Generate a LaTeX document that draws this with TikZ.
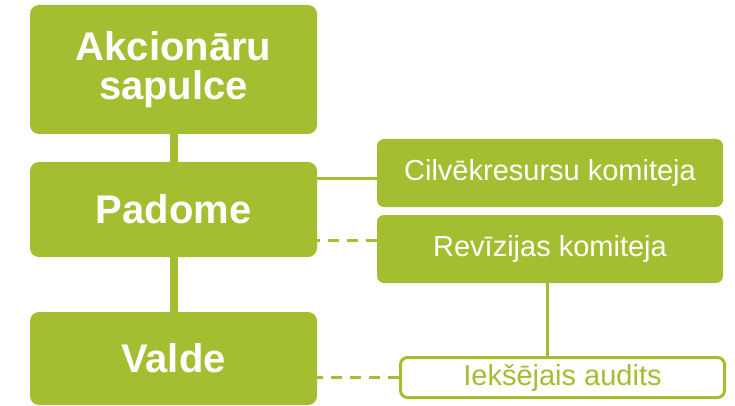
\documentclass[tikz,border=0pt]{standalone}
\usepackage{fontspec}
\setmainfont{Liberation Sans}
\definecolor{lime}{RGB}{164,190,50}
\begin{document}
\begin{tikzpicture}[x=1pt,y=-1pt,
  mainbox/.style={fill=lime,rounded corners=9pt,inner sep=0pt,minimum width=287pt,text=white,font=\fontsize{40}{39}\selectfont\bfseries,align=center},
  subbox/.style={fill=lime,rounded corners=7pt,inner sep=0pt,minimum width=346pt,minimum height=68pt,text=white,font=\fontsize{29}{30}\selectfont},
  outbox/.style={draw=lime,line width=3pt,fill=white,rounded corners=7pt,inner sep=0pt,minimum width=324pt,minimum height=40pt,text=lime,font=\fontsize{29}{30}\selectfont},
  thick link/.style={draw=lime,line width=8pt},
  thin link/.style={draw=lime,line width=3pt},
  dash link/.style={draw=lime,line width=3pt,dash pattern=on 11pt off 8pt}]
\useasboundingbox (0,0) rectangle (735,406);
\node[mainbox,minimum height=129pt] (akc) at (173.5,69.5) {Akcionāru\\sapulce};
\node[mainbox,minimum height=95pt] (pad) at (173.5,209.5) {Padome};
\node[mainbox,minimum height=93pt] (val) at (173.5,358.5) {Valde};
\node[subbox] (cil) at (550,173) {Cilvēkresursu komiteja};
\node[subbox] (rev) at (550,249) {Revīzijas komiteja};
\node[outbox] (aud) at (562.5,377.5) {Iekšējais audits};
\draw[thick link] (akc.south) -- (pad.north);
\draw[thick link] (pad.south) -- (val.north);
\draw[thin link] ([yshift=-5pt]cil.west) -- ([yshift=-5pt]cil.west -| pad.east);
\draw[dash link] ([yshift=9pt]rev.west) -- ([yshift=9pt]rev.west -| pad.east);
\draw[thin link] ([xshift=-3pt]rev.south) -- ([xshift=-3pt]rev.south |- aud.north);
\draw[dash link] (aud.west) -- (aud.west -| val.east);
\end{tikzpicture}
\end{document}
